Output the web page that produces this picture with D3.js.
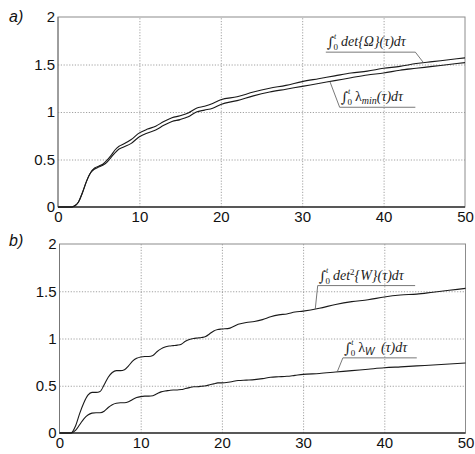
<!DOCTYPE html>
<html>
<head>
<meta charset="utf-8">
<script src="https://cdn.jsdelivr.net/npm/d3@7"></script>
<style>
  body { margin: 0; background: #fff; }
  .tick text { font-family: "Liberation Sans", Arial, sans-serif; font-size: 15px; fill: #111; }
  .grid line { stroke: #8a8a8a; stroke-width: 0.8; stroke-dasharray: 1.2,1.6; }
  .grid .domain { display: none; }
  .lbl .domain { display: none; }
  .curve { fill: none; stroke: #1a1a1a; stroke-width: 1.1; }
  .math { font-family: "Liberation Serif", "Times New Roman", serif; font-style: italic; fill: #222; }
</style>
</head>
<body>
<svg id="chart" width="475" height="454"></svg>
<script>
// axis ticks
const xTicks = [0, 10, 20, 30, 40, 50];
const yTicks = [0, 0.5, 1, 1.5, 2];

// panel a) : integrals of det{Omega} and lambda_min
const tTop = [0, 1, 1.7, 2, 2.5, 3, 3.5, 4, 4.5, 5, 5.5, 6, 6.5, 7, 7.5, 8, 9, 10, 11, 12, 13, 14, 15, 16, 17, 18, 19, 20,
  22, 24, 26, 28, 30, 32, 34, 36, 38, 40, 42, 44, 46, 48, 50];
const detOmega = [0, 0, 0, 0.01, 0.05, 0.15, 0.27, 0.36, 0.41, 0.43, 0.45, 0.49, 0.54, 0.6, 0.64, 0.66, 0.71, 0.78, 0.82, 0.85, 0.9, 0.94, 0.96, 0.99, 1.04, 1.06, 1.09, 1.13,
  1.16, 1.21, 1.25, 1.28, 1.32, 1.35, 1.38, 1.41, 1.43, 1.46, 1.48, 1.51, 1.53, 1.55, 1.57];
const lambdaMin = [0, 0, 0, 0.01, 0.05, 0.15, 0.27, 0.36, 0.40, 0.42, 0.44, 0.47, 0.52, 0.57, 0.61, 0.63, 0.67, 0.74, 0.78, 0.81, 0.86, 0.9, 0.92, 0.95, 1.0, 1.02, 1.04, 1.08,
  1.12, 1.17, 1.21, 1.24, 1.27, 1.3, 1.33, 1.36, 1.39, 1.41, 1.44, 1.46, 1.48, 1.5, 1.52];

// panel b) : integrals of det^2{W} and lambda_W
const tBottom = [0, 1, 1.4, 2, 2.5, 3, 3.5, 4, 4.5, 5, 5.5, 6, 6.5, 7, 7.5, 8, 8.5, 9, 9.5, 10, 10.5, 11, 11.5, 12, 12.5, 13, 13.5, 14, 14.5, 15,
  15.5, 16, 16.5, 17, 17.5, 18, 18.5, 19, 19.5, 20, 21, 22, 23, 24, 25, 26, 27, 28, 29, 30, 32, 34, 36, 38, 40, 42, 44, 46, 48, 50];
const det2W = [0, 0, 0, 0.08, 0.21, 0.32, 0.40, 0.43, 0.43, 0.44, 0.51, 0.59, 0.64, 0.66, 0.66, 0.67, 0.71, 0.76, 0.79, 0.805, 0.81, 0.81, 0.82, 0.86, 0.89, 0.91, 0.92, 0.925, 0.93, 0.94,
  0.97, 0.99, 1.0, 1.005, 1.01, 1.02, 1.05, 1.08, 1.095, 1.1, 1.11, 1.15, 1.17, 1.18, 1.2, 1.23, 1.25, 1.26, 1.28, 1.29, 1.32, 1.36, 1.39, 1.41, 1.44, 1.46, 1.47, 1.49, 1.51, 1.53];
const lambdaW = [0, 0, 0, 0.03, 0.09, 0.15, 0.19, 0.21, 0.215, 0.215, 0.23, 0.27, 0.30, 0.315, 0.32, 0.32, 0.33, 0.355, 0.375, 0.385, 0.39, 0.39, 0.395, 0.415, 0.435, 0.445, 0.45, 0.455, 0.455, 0.46,
  0.47, 0.48, 0.49, 0.49, 0.495, 0.5, 0.51, 0.52, 0.53, 0.53, 0.54, 0.555, 0.56, 0.565, 0.575, 0.59, 0.595, 0.6, 0.61, 0.62, 0.63, 0.645, 0.66, 0.675, 0.69, 0.70, 0.71, 0.72, 0.73, 0.74];

const svg = d3.select('#chart');
const SERIF = '"DejaVu Serif", serif';

// builds the label: integral sign, stacked limits, then the body pieces
function mathLabel(g, x, y, pieces)
{
  let txt = g.append('text').attr('class', 'math').attr('font-size', '14px');
  let intSign = txt.append('tspan').text('\u222B').attr('x', x).attr('y', y + 1)
    .attr('font-family', SERIF).attr('font-style', 'normal').attr('font-size', '14px');
  let w = intSign.node().getComputedTextLength();
  txt.append('tspan').text('t').attr('font-size', '8px').attr('x', x + w).attr('y', y - 7);
  txt.append('tspan').text('0').attr('font-size', '9px').attr('font-style', 'normal').attr('x', x + w - 0.5).attr('y', y + 4);
  let first = true;
  pieces.forEach(p => {
    let ts = txt.append('tspan').text(p.s);
    if (p.size) ts.attr('font-size', p.size);
    if (p.normal) ts.attr('font-style', 'normal');
    if (p.family) ts.attr('font-family', p.family);
    if (first) ts.attr('x', x + w + 7).attr('y', y);
    else ts.attr('dy', p.dy || 0).attr('dx', p.dx || 0);
    first = false;
  });
  return txt;
}

function valueAt(ts, vs, t)
{
  let i = d3.bisectLeft(ts, t);
  if (i <= 0) return vs[0];
  if (i >= ts.length) return vs[vs.length - 1];
  let k = (t - ts[i - 1]) / (ts[i] - ts[i - 1]);
  return vs[i - 1] + k * (vs[i] - vs[i - 1]);
}

function drawPanel(p)
{
  const g = svg.append('g');
  const x = d3.scaleLinear().domain([0, 50]).range([p.left, p.right]);
  const y = d3.scaleLinear().domain([0, 2]).range([p.bottom, p.top]);

  // dotted grid
  g.append('g').attr('class', 'grid')
    .attr('transform', `translate(0,${p.bottom})`)
    .call(d3.axisBottom(x).tickValues(xTicks.slice(1, -1)).tickSize(-(p.bottom - p.top)).tickFormat(''));
  g.append('g').attr('class', 'grid')
    .attr('transform', `translate(${p.left},0)`)
    .call(d3.axisLeft(y).tickValues(yTicks.slice(1, -1)).tickSize(-(p.right - p.left)).tickFormat(''));

  // frame
  g.append('rect').attr('x', p.left).attr('y', p.top)
    .attr('width', p.right - p.left).attr('height', p.bottom - p.top)
    .attr('fill', 'none').attr('stroke', '#8c8c8c').attr('stroke-width', 1);
  g.append('line').attr('x1', p.left).attr('x2', p.right).attr('y1', p.bottom).attr('y2', p.bottom)
    .attr('stroke', '#333').attr('stroke-width', 1.3);
  g.append('line').attr('x1', p.left).attr('x2', p.left).attr('y1', p.top).attr('y2', p.bottom)
    .attr('stroke', '#777').attr('stroke-width', 1);

  // tick labels
  g.append('g').attr('class', 'lbl')
    .attr('transform', `translate(0,${p.bottom})`)
    .call(d3.axisBottom(x).tickValues(xTicks).tickSize(0).tickPadding(4).tickFormat(d3.format('d')));
  g.append('g').attr('class', 'lbl')
    .attr('transform', `translate(${p.left},0)`)
    .call(d3.axisLeft(y).tickValues(yTicks).tickSize(0).tickPadding(3).tickFormat(d => d));

  // curves
  const line = d3.line().curve(d3.curveMonotoneX)
    .x(d => x(d[0])).y(d => y(d[1]));
  p.series.forEach(s => {
    g.append('path').attr('class', 'curve').attr('d', line(p.t.map((t, i) => [t, s.v[i]])));
  });

  // labels with underline and leader line
  p.series.forEach(s => {
    let a = s.note;
    let ux1 = x(a.from), ux2 = x(a.to), uy = y(a.at);
    let hitX = x(a.hit), hitY = y(valueAt(p.t, s.v, a.hit));
    g.append('line').attr('x1', ux1).attr('x2', ux2).attr('y1', uy).attr('y2', uy)
      .attr('stroke', '#555').attr('stroke-width', 0.8);
    g.append('line').attr('x1', a.leaderEnd ? ux2 : ux1).attr('y1', uy).attr('x2', hitX).attr('y2', hitY)
      .attr('stroke', '#555').attr('stroke-width', 0.8);
    mathLabel(g, ux1 + 1, uy - 6, a.pieces);
  });

  // panel letter
  g.append('text').attr('x', p.letterX).attr('y', p.letterY)
    .attr('font-family', '"Liberation Sans", Arial, sans-serif').attr('font-style', 'italic')
    .attr('font-size', '16px').attr('fill', '#111').text(p.letter);
}

drawPanel({
  letter: 'a)', letterX: 9, letterY: 22,
  left: 58, right: 465, top: 17, bottom: 207,
  t: tTop,
  series: [
    { v: detOmega, note: { from: 32.9, to: 43.9, at: 1.63, hit: 44.9, leaderEnd: true,
      pieces: [{ s: 'det{\u03A9}(\u03C4)d\u03C4' }] } },
    { v: lambdaMin, note: { from: 34.6, to: 43.9, at: 1.05, hit: 33.4,
      pieces: [{ s: '\u03BB', normal: true }, { s: 'min', size: '10px', dy: 3 }, { s: '(\u03C4)d\u03C4', dy: -3 }] } }
  ]
});

drawPanel({
  letter: 'b)', letterX: 9, letterY: 246,
  left: 59.5, right: 465.5, top: 244, bottom: 433,
  t: tBottom,
  series: [
    { v: det2W, note: { from: 31.8, to: 43.8, at: 1.56, hit: 31.5,
      pieces: [{ s: 'det' }, { s: '2', size: '9px', normal: true, dy: -5 }, { s: '{W}(\u03C4)d\u03C4', dy: 5 }] } },
    { v: lambdaW, note: { from: 34.9, to: 44.0, at: 0.795, hit: 34.2,
      pieces: [{ s: '\u03BB', normal: true }, { s: 'W', size: '10px', dy: 3, family: '"Liberation Sans", Arial, sans-serif' }, { s: ' (\u03C4)d\u03C4', dy: -3, dx: 3 }] } }
  ]
});
</script>
</body>
</html>
